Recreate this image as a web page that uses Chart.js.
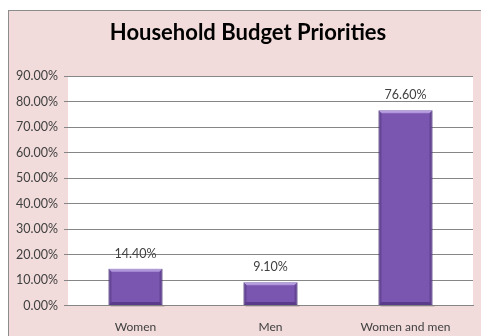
<!DOCTYPE html>
<html>
<head>
<meta charset="utf-8">
<title>Household Budget Priorities</title>
<script src="https://cdn.jsdelivr.net/npm/chart.js@4/dist/chart.umd.min.js"></script>
<style>
  html, body { margin: 0; padding: 0; background: #fff; }
  canvas { display: block; }
</style>
</head>
<body>
<canvas id="budgetChart" width="481" height="336"></canvas>
<script>
const categories = ["Women", "Men", "Women and men"];
const shares = [14.40, 9.10, 76.60];
const yTicks = [0, 10, 20, 30, 40, 50, 60, 70, 80, 90];
const chartTitle = "Household Budget Priorities";

const pct = v => v.toFixed(2) + "%";

// pink frame, white plot area, title centred on the frame
const backdrop = {
  id: "backdrop",
  beforeDraw(chart) {
    const { ctx, chartArea: a } = chart;
    ctx.save();
    ctx.fillStyle = "#fff";
    ctx.fillRect(0, 0, chart.width, chart.height);
    ctx.fillStyle = "#f2dcdb";
    ctx.fillRect(8, 10, chart.width, chart.height);
    ctx.strokeStyle = "#8c8c8c";
    ctx.lineWidth = 1;
    ctx.strokeRect(8.5, 10.5, chart.width + 10, chart.height + 10);
    ctx.fillStyle = "#fff";
    ctx.fillRect(a.left, a.top, a.right - a.left, a.bottom - a.top);
    ctx.fillStyle = "#000";
    ctx.font = "bold 22px Lato";
    ctx.textAlign = "center";
    ctx.textBaseline = "middle";
    ctx.fillText(chartTitle, 248, 33);
    ctx.restore();
  }
};

// bevelled look on the bars + value labels above them
const bevel = {
  id: "bevel",
  afterDatasetsDraw(chart) {
    const ctx = chart.ctx;
    const data = chart.data.datasets[0].data;
    ctx.save();
    chart.getDatasetMeta(0).data.forEach((bar, i) => {
      const { x, y, base, width } = bar.getProps(["x", "y", "base", "width"], true);
      const l = x - width / 2, r = x + width / 2, e = 3;
      // soft shadow under the bar
      ctx.fillStyle = "rgba(120,100,110,0.25)";
      ctx.fillRect(l + 2, base, width, 2);
      ctx.fillStyle = "rgba(205,185,240,0.65)";
      ctx.beginPath();
      ctx.moveTo(l, y); ctx.lineTo(r, y); ctx.lineTo(r - e, y + e); ctx.lineTo(l + e, y + e);
      ctx.closePath(); ctx.fill();
      ctx.fillStyle = "rgba(50,25,90,0.3)";
      ctx.beginPath();
      ctx.moveTo(l, y); ctx.lineTo(l + e, y + e); ctx.lineTo(l + e, base - e); ctx.lineTo(l, base);
      ctx.closePath(); ctx.fill();
      ctx.beginPath();
      ctx.moveTo(r, y); ctx.lineTo(r - e, y + e); ctx.lineTo(r - e, base - e); ctx.lineTo(r, base);
      ctx.closePath(); ctx.fill();
      ctx.fillStyle = "rgba(50,25,90,0.45)";
      ctx.beginPath();
      ctx.moveTo(l, base); ctx.lineTo(l + e, base - e); ctx.lineTo(r - e, base - e); ctx.lineTo(r, base);
      ctx.closePath(); ctx.fill();

      ctx.fillStyle = "#404040";
      ctx.font = "12.5px Lato";
      ctx.textAlign = "center";
      ctx.textBaseline = "middle";
      ctx.fillText(pct(data[i]), x, y - 15);
    });
    ctx.restore();
  }
};

new Chart(document.getElementById("budgetChart"), {
  type: "bar",
  data: {
    labels: categories,
    datasets: [{
      data: shares,
      backgroundColor: "#7b56b1",
      borderColor: "#563a82",
      borderWidth: 1,
      categoryPercentage: 1,
      barPercentage: 0.4
    }]
  },
  options: {
    responsive: false,
    animation: false,
    layout: { padding: { left: 8, right: 8, top: 76, bottom: 0 } },
    plugins: {
      legend: { display: false },
      tooltip: { enabled: false },
      title: { display: false }
    },
    scales: {
      x: {
        grid: { display: false, drawTicks: false },
        border: { display: true, color: "#868686" },
        ticks: { color: "#404040", font: { family: "Lato", size: 12 }, padding: 14 },
        afterFit(scale) { scale.height = 30.5; }
      },
      y: {
        min: 0,
        max: 90,
        afterBuildTicks(scale) { scale.ticks = yTicks.map(v => ({ value: v })); },
        grid: { color: "#868686", tickLength: 4 },
        border: { display: false },
        ticks: {
          color: "#404040",
          font: { family: "Lato", size: 12.5 },
          padding: 6,
          callback: v => pct(v)
        },
        afterFit(scale) { scale.width = 60; }
      }
    }
  },
  plugins: [backdrop, bevel]
});
</script>
</body>
</html>
